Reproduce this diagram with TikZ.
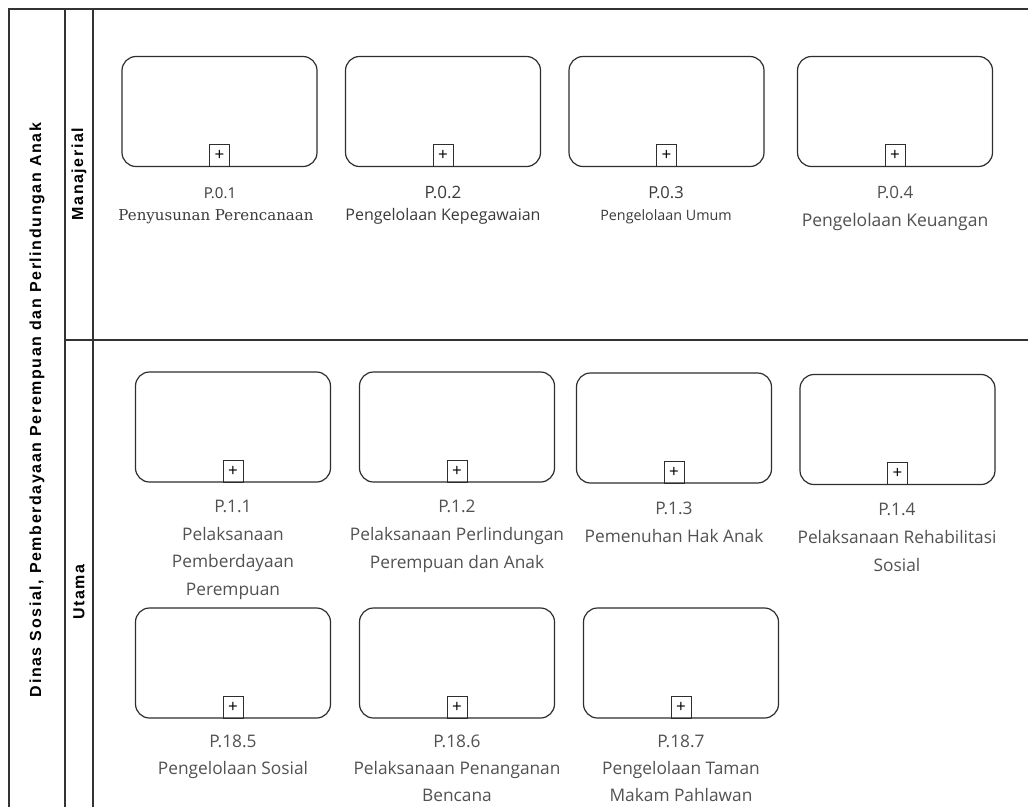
\documentclass[tikz,border=0pt]{standalone}
\usepackage{fontspec}
\setmainfont{Open Sans}
\newfontfamily\serifl{DejaVu Serif}
\newfontfamily\arialf{Liberation Sans}[LetterSpace=10]
\definecolor{framec}{HTML}{333333}
\definecolor{boxc}{HTML}{2E2E2E}
\definecolor{txtdark}{HTML}{3A3A3A}
\definecolor{txtlight}{HTML}{525252}
\tikzset{
  procbox/.style={draw=boxc, line width=1.2pt, rounded corners=14pt, minimum width=195pt, minimum height=110pt, inner sep=0pt, fill=white},
  plusbox/.style={draw=boxc, line width=1pt, minimum width=20pt, minimum height=22pt, inner sep=0pt, anchor=south, font=\fontsize{17}{17}\selectfont},
  lbl/.style={anchor=north, align=center, inner sep=0pt, text=txtlight, font=\fontsize{17.3}{27.7}\selectfont},
  lbltop/.style={anchor=base, inner sep=0pt, text=txtdark},
  lanetxt/.style={rotate=90, font=\arialf\bfseries\fontsize{16}{16}\selectfont, text=black},
  frameline/.style={draw=framec, line width=1.5pt}
}
\begin{document}
\begin{tikzpicture}[x=1pt, y=-1pt]
\useasboundingbox (0,0) rectangle (1028,807);
\fill[white] (0,0) rectangle (1028,807);
% frame
\draw[frameline] (1028,9) -- (9,9) -- (9,807);
\draw[frameline] (65,9) -- (65,807);
\draw[frameline] (93,9) -- (93,807);
\draw[frameline] (65,340) -- (1028,340);
% lane titles
\node[lanetxt] (pool) at (37,410) {Dinas Sosial, Pemberdayaan Perempuan dan Perlindungan Anak};
\node[lanetxt] (lanem) at (79,174) {Manajerial};
\node[lanetxt] (laneu) at (79,592) {Utama};
% row 1
\node[procbox] (p01) at (219.5,111.5) {};
\node[procbox] (p02) at (443,111.5) {};
\node[procbox] (p03) at (666.5,111.5) {};
\node[procbox] (p04) at (895,111.5) {};
\foreach \n in {p01,p02,p03,p04} \node[plusbox] (\n m) at (\n.south) {+};
\node[lbltop, font=\fontsize{15}{15}\selectfont] (l01a) at (220,198) {P.0.1};
\node[lbltop, font=\serifl\fontsize{15}{15}\selectfont] (l01b) at (216,220) {Penyusunan Perencanaan};
\node[lbltop, font=\fontsize{17}{17}\selectfont] (l02a) at (443,198) {P.0.2};
\node[lbltop, font=\fontsize{16}{16}\selectfont] (l02b) at (443,220) {Pengelolaan Kepegawaian};
\node[lbltop, font=\fontsize{16.5}{16}\selectfont] (l03a) at (666,198) {P.0.3};
\node[lbltop, font=\fontsize{14.3}{14}\selectfont] (l03b) at (666,220) {Pengelolaan Umum};
\node[lbltop, text=txtlight, font=\fontsize{17}{17}\selectfont] (l04a) at (895,198) {P.0.4};
\node[lbltop, text=txtlight, font=\fontsize{17.5}{17}\selectfont] (l04b) at (895,226) {Pengelolaan Keuangan};
% row 2
\node[procbox] (p11) at (233,427) {};
\node[procbox] (p12) at (457,427) {};
\node[procbox] (p13) at (674,428) {};
\node[procbox] (p14) at (897.5,429.5) {};
\foreach \n in {p11,p12,p13,p14} \node[plusbox] (\n m) at (\n.south) {+};
\node[lbl] (l11) at (233,500) {P.1.1\\Pelaksanaan\\Pemberdayaan\\Perempuan};
\node[lbl] (l12) at (457,500) {P.1.2\\Pelaksanaan Perlindungan\\Perempuan dan Anak};
\node[lbl] (l13) at (674,502) {P.1.3\\Pemenuhan Hak Anak};
\node[lbl] (l14) at (897,503) {P.1.4\\Pelaksanaan Rehabilitasi\\Sosial};
% row 3
\node[procbox] (p185) at (233,663) {};
\node[procbox] (p186) at (457,663) {};
\node[procbox] (p187) at (681,663) {};
\foreach \n in {p185,p186,p187} \node[plusbox] (\n m) at (\n.south) {+};
\node[lbl, font=\fontsize{17.3}{27}\selectfont] (l185) at (233,735) {P.18.5\\Pengelolaan Sosial};
\node[lbl, font=\fontsize{17.3}{27}\selectfont] (l186) at (457,735) {P.18.6\\Pelaksanaan Penanganan\\Bencana};
\node[lbl, font=\fontsize{17.3}{27}\selectfont] (l187) at (681,735) {P.18.7\\Pengelolaan Taman\\Makam Pahlawan};
\end{tikzpicture}
\end{document}
